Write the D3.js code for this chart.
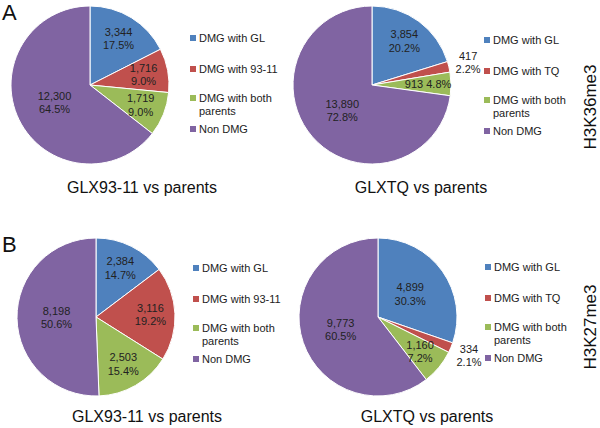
<!DOCTYPE html>
<html>
<head>
<meta charset="utf-8">
<script src="https://cdn.jsdelivr.net/npm/d3@7"></script>
<style>
  body { margin: 0; background: #fff; }
  text { font-family: "Liberation Sans", Arial, sans-serif; }
</style>
</head>
<body>
<svg></svg>
<script>
const size = {w: 600, h: 428};
const svg = d3.select('svg').attr('width', size.w).attr('height', size.h);

// data
const panelLetters = ['A', 'B'];
const marks = ['H3K36me3', 'H3K27me3'];
const titles = ['GLX93-11 vs parents', 'GLXTQ vs parents'];
const legend93 = ['DMG with GL', 'DMG with 93-11', 'DMG with both parents', 'Non DMG'];
const legendTQ = ['DMG with GL', 'DMG with TQ', 'DMG with both parents', 'Non DMG'];
const k36vs93 = [3344, 1716, 1719, 12300];
const k36vsTQ = [3854, 417, 913, 13890];
const k27vs93 = [2384, 3116, 2503, 8198];
const k27vsTQ = [4899, 334, 1160, 9773];
const colors = ['#4F81BD', '#C0504D', '#9BBB59', '#8064A2'];

// layout for each pie (row, col)
const panels = [
  {values: k36vs93, legend: legend93, title: titles[0], cx: 90,  cy: 85,  lx: 190, ly: 38,  tx: 142, ty: 193},
  {values: k36vsTQ, legend: legendTQ, title: titles[1], cx: 372, cy: 85,  lx: 484, ly: 40,  tx: 421, ty: 193},
  {values: k27vs93, legend: legend93, title: titles[0], cx: 96,  cy: 317, lx: 193, ly: 268, tx: 147, ty: 422},
  {values: k27vsTQ, legend: legendTQ, title: titles[1], cx: 378, cy: 317, lx: 485, ly: 267, tx: 427, ty: 422}
];
const r = 79;
const fmt = d3.format(',');

const pie = d3.pie().sort(null).value(d => d);
const arc = d3.arc().innerRadius(0).outerRadius(r);

panels.forEach(p => {
  const g = svg.append('g').attr('transform', `translate(${p.cx},${p.cy})`);
  const total = d3.sum(p.values);
  const arcs = pie(p.values);

  g.selectAll('path')
    .data(arcs)
    .join('path')
    .attr('d', arc)
    .attr('fill', (d, i) => colors[i])
    .attr('stroke', '#fff')
    .attr('stroke-width', 1);

  // data labels, roughly like excel's best fit
  arcs.forEach(d => {
    const share = d.value / total;
    const pct = (share * 100).toFixed(1) + '%';
    const mid = (d.startAngle + d.endAngle) / 2;
    let dist, oneLine = false;
    if (share < 0.03) dist = r * 1.25;
    else if (share < 0.06) { dist = r * 0.71; oneLine = true; }
    else if (share < 0.25) dist = r * 0.69;
    else dist = r * 0.5;
    const x = Math.sin(mid) * dist, y = -Math.cos(mid) * dist;
    const t = g.append('text')
      .attr('x', x).attr('y', y)
      .attr('text-anchor', 'middle')
      .attr('font-size', 11)
      .attr('fill', '#222');
    if (oneLine) {
      t.append('tspan').attr('x', x).attr('dy', '0.35em').text(fmt(d.value) + ' ' + pct);
    } else {
      t.append('tspan').attr('x', x).attr('dy', '-0.25em').text(fmt(d.value));
      t.append('tspan').attr('x', x).attr('dy', '1.2em').text(pct);
    }
  });

  // legend
  const rowOff = [0, 31, 60, 91];
  p.legend.forEach((name, i) => {
    const y = p.ly + rowOff[i];
    svg.append('rect')
      .attr('x', p.lx).attr('y', y - 3)
      .attr('width', 6).attr('height', 6)
      .attr('fill', colors[i]);
    const t = svg.append('text')
      .attr('x', p.lx + 9).attr('y', y)
      .attr('font-size', 11)
      .attr('fill', '#222');
    if (name === 'DMG with both parents') {
      t.append('tspan').attr('x', p.lx + 9).attr('dy', '0.35em').text('DMG with both');
      t.append('tspan').attr('x', p.lx + 9).attr('dy', '1.2em').text('parents');
    } else {
      t.append('tspan').attr('dy', '0.35em').text(name);
    }
  });

  svg.append('text')
    .attr('x', p.tx).attr('y', p.ty)
    .attr('text-anchor', 'middle')
    .attr('font-size', 16)
    .attr('fill', '#111')
    .text(p.title);
});

// panel letters
svg.selectAll('text.letter')
  .data(panelLetters)
  .join('text')
  .classed('letter', true)
  .attr('x', 2)
  .attr('y', (d, i) => i === 0 ? 20 : 252)
  .attr('font-size', 22)
  .attr('fill', '#111')
  .text(d => d);

// mark labels on the right
svg.selectAll('text.mark')
  .data(marks)
  .join('text')
  .classed('mark', true)
  .attr('transform', (d, i) => `translate(596,${i === 0 ? 107 : 327}) rotate(-90)`)
  .attr('text-anchor', 'middle')
  .attr('font-size', 17)
  .attr('fill', '#111')
  .text(d => d);
</script>
</body>
</html>
